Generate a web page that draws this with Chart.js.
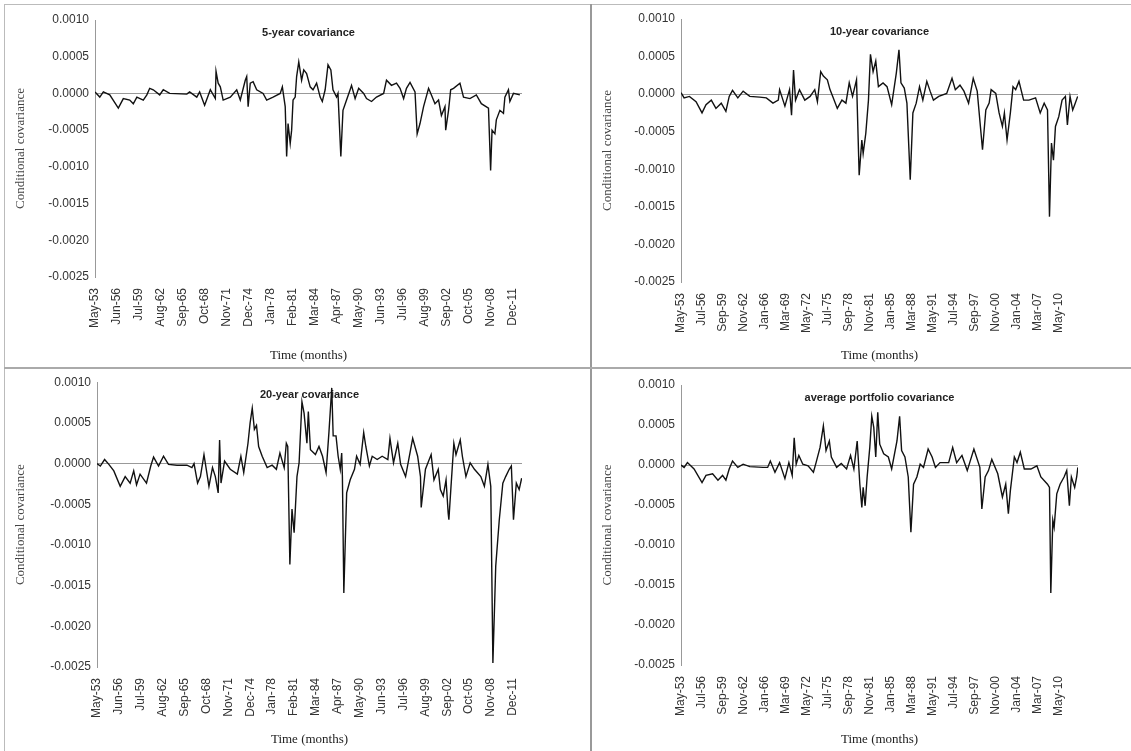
<!DOCTYPE html>
<html><head><meta charset="utf-8">
<script src="https://cdn.jsdelivr.net/npm/chart.js@4.4.0/dist/chart.umd.min.js"></script>
<style>
body{margin:0;background:#fff;width:1131px;height:751px;position:relative;overflow:hidden}
.p{position:absolute}
.ln{position:absolute;background:#bbb}
</style></head><body>
<div class="ln" style="left:4px;top:4px;width:1127px;height:1px"></div>
<div class="ln" style="left:4px;top:4px;width:1px;height:747px"></div>
<div class="ln" style="left:590px;top:4px;width:2px;height:747px;background:#999"></div>
<div class="ln" style="left:4px;top:367px;width:1127px;height:2px;background:#aaa"></div>
<div class="p" style="left:5px;top:5px;width:585px;height:362px"><canvas id="c1"></canvas></div>
<div class="p" style="left:592px;top:5px;width:539px;height:362px"><canvas id="c2"></canvas></div>
<div class="p" style="left:5px;top:369px;width:585px;height:382px"><canvas id="c3"></canvas></div>
<div class="p" style="left:592px;top:369px;width:539px;height:382px"><canvas id="c4"></canvas></div>
<script>
const labelsLeft = ["May-53","Jun-56","Jul-59","Aug-62","Sep-65","Oct-68","Nov-71","Dec-74","Jan-78","Feb-81","Mar-84","Apr-87","May-90","Jun-93","Jul-96","Aug-99","Sep-02","Oct-05","Nov-08","Dec-11"];
const labelsRight = ["May-53","Jul-56","Sep-59","Nov-62","Jan-66","Mar-69","May-72","Jul-75","Sep-78","Nov-81","Jan-85","Mar-88","May-91","Jul-94","Sep-97","Nov-00","Jan-04","Mar-07","May-10"];

const t5 = [1953.33,1954.0,1954.5,1955.4,1956.6,1957.3,1958.2,1958.7,1959.2,1960.1,1960.6,1961.0,1961.5,1962.4,1962.9,1963.8,1966.2,1966.6,1967.6,1968.0,1968.7,1969.5,1970.2,1970.3,1970.6,1970.9,1971.3,1972.3,1973.2,1973.7,1974.4,1974.6,1974.8,1975.1,1975.5,1976.0,1976.9,1977.4,1978.3,1979.3,1979.6,1980.0,1980.2,1980.4,1980.7,1980.9,1981.1,1981.4,1981.6,1981.9,1982.3,1982.6,1983.0,1983.5,1983.9,1984.4,1984.9,1985.2,1985.6,1986.0,1986.4,1986.7,1987.2,1987.4,1987.8,1988.1,1988.6,1989.1,1989.3,1989.8,1990.3,1991.0,1991.4,1992.1,1992.8,1993.8,1994.2,1994.9,1995.6,1996.1,1996.6,1997.0,1997.5,1998.2,1998.5,1998.9,1999.4,2000.1,2000.5,2001.0,2001.5,2001.9,2002.4,2002.5,2002.9,2003.2,2003.6,2004.5,2005.0,2005.9,2006.8,2007.5,2008.5,2008.8,2009.0,2009.4,2009.6,2010.1,2010.6,2010.8,2011.3,2011.5,2012.0,2012.9];
const v5 = [0.00002,-0.00005,0.00002,-0.00002,-0.0002,-0.00007,-0.00009,-0.00014,-0.00005,-0.00009,-0.00002,0.00007,0.00005,-0.00002,0.00005,0,-0.00001,0.00002,-0.00005,0.00002,-0.00016,0.00005,-0.00007,0.0003,0.00014,0.00009,-0.00009,-0.00005,0.00005,-0.00009,0.00018,0.00023,-0.00018,0.00014,0.00016,0.00005,0,-0.00009,-0.00005,0,0.00009,-0.00018,-0.00086,-0.00041,-0.00068,-0.0005,-0.00009,-0.00005,0.00023,0.00043,0.00018,0.00032,0.00027,0.00009,0.00005,0.00014,-0.00005,-0.00011,0.00005,0.00039,0.00032,0.00005,-0.00005,0,-0.00086,-0.00023,-0.00009,0.00005,0.00011,-0.00007,0.00007,0,-0.00007,-0.00011,-0.00005,0,0.00018,0.00011,0.00014,0.00007,-0.00007,0.00007,0.00015,0.00002,-0.00055,-0.00041,-0.00018,0.00007,-0.00002,-0.00014,-0.00009,-0.0003,-0.00018,-0.0005,-0.00023,0.00005,0.00007,0.00014,-0.00005,-0.00007,-0.00002,-0.00014,-0.0002,-0.00105,-0.0005,-0.00055,-0.00036,-0.00023,-0.00027,-0.00005,0.00005,-0.00011,0,-0.00002];

const t10 = [1953.33,1953.8,1954.6,1955.6,1956.5,1957.1,1957.9,1958.6,1959.4,1960.1,1960.6,1961.1,1961.9,1962.7,1963.7,1965.2,1966.2,1967.2,1968.0,1968.2,1969.0,1969.7,1970.0,1970.3,1970.6,1971.2,1972.0,1972.8,1973.5,1973.9,1974.4,1974.8,1975.4,1975.8,1976.3,1976.9,1977.6,1978.2,1978.7,1979.2,1979.8,1980.2,1980.6,1980.8,1981.2,1981.6,1981.9,1982.3,1982.7,1983.1,1983.8,1984.4,1985.1,1985.8,1986.2,1986.5,1987.0,1987.4,1987.9,1988.3,1988.8,1989.3,1989.8,1990.4,1990.9,1991.4,1992.2,1993.4,1994.2,1994.7,1995.4,1996.0,1996.7,1997.4,1998.0,1998.8,1999.3,1999.8,2000.1,2000.8,2001.3,2001.8,2002.1,2002.5,2003.0,2003.4,2003.8,2004.3,2005.0,2005.8,2006.8,2007.5,2008.1,2008.6,2008.9,2009.2,2009.5,2009.8,2010.3,2010.8,2011.3,2011.6,2012.0,2012.4,2012.7,2013.15];
const v10 = [0.00002,-0.00005,-0.00003,-0.0001,-0.00025,-0.00014,-0.00008,-0.00019,-0.00012,-0.00023,-0.00003,0.00005,-0.00005,0.00004,-0.00003,-0.00004,-0.00005,-0.00012,-0.00008,0.00006,-0.00016,0.00006,-0.00028,0.00032,-0.00008,0.00006,-0.00008,-0.00003,0.00006,-0.0001,0.0003,0.00024,0.00019,0.00006,-0.00005,-0.00019,-0.00008,-0.00012,0.00015,-0.00003,0.00019,-0.00108,-0.00061,-0.00079,-0.00052,-0.00008,0.00053,0.0003,0.00044,0.0001,0.00015,0.0001,-0.00014,0.00028,0.00059,0.00015,0.00008,-0.00012,-0.00114,-0.00025,-0.00012,0.0001,-0.00008,0.00017,0.00004,-0.00008,-0.00003,0.00001,0.00021,0.00006,0.00012,0.00004,-0.00012,0.00021,0.00004,-0.00074,-0.00021,-0.00012,0.00006,0.00001,-0.00025,-0.00043,-0.00025,-0.00061,-0.00025,0.0001,0.00006,0.00017,-0.00008,-0.00008,-0.00005,-0.00025,-0.00012,-0.00021,-0.00163,-0.00065,-0.00088,-0.00043,-0.0003,-0.00008,-0.00003,-0.00041,-0.00003,-0.00021,-0.00014,-0.00003];

const t20 = [1953.33,1953.8,1954.4,1955.0,1955.7,1956.6,1957.3,1958.0,1958.5,1958.9,1959.4,1960.3,1960.9,1961.3,1962.0,1962.7,1963.4,1964.6,1966.0,1966.7,1967.0,1967.5,1967.9,1968.4,1969.1,1969.6,1970.0,1970.4,1970.6,1970.8,1971.3,1972.1,1973.1,1973.6,1974.0,1974.6,1974.9,1975.2,1975.5,1975.8,1976.1,1976.6,1977.3,1978.0,1978.6,1979.1,1979.7,1980.0,1980.2,1980.5,1980.8,1981.1,1981.5,1981.8,1982.2,1982.5,1982.9,1983.1,1983.4,1984.1,1984.6,1985.1,1985.6,1986.0,1986.4,1986.6,1987.0,1987.3,1987.6,1987.8,1987.9,1988.1,1988.5,1989.0,1989.6,1989.9,1990.4,1990.9,1991.2,1991.7,1992.1,1992.8,1993.5,1994.3,1994.6,1995.1,1995.7,1996.1,1996.8,1997.8,1998.5,1998.9,1999.0,1999.6,2000.4,2000.8,2001.4,2001.7,2002.1,2002.5,2002.8,2002.9,2003.2,2003.6,2003.9,2004.5,2004.8,2005.3,2005.9,2006.5,2007.4,2007.9,2008.4,2008.8,2009.1,2009.5,2010.0,2010.5,2010.9,2011.4,2011.7,2012.0,2012.4,2012.8,2013.15];
const v20 = [0,-0.00003,0.00005,-0.00001,-0.00009,-0.00028,-0.00016,-0.00024,-0.00009,-0.00026,-0.00013,-0.00024,-0.00003,0.00008,-0.00003,0.00009,-0.00001,-0.00002,-0.00002,-0.00005,0,-0.00024,-0.00016,0.00011,-0.00028,-0.00005,-0.00016,-0.00036,0.00029,-0.00024,0.00003,-0.00007,-0.00013,0.00009,-0.00011,0.00025,0.0005,0.00068,0.00042,0.00047,0.00021,0.00009,-0.00005,-0.00002,-0.00007,0.00013,-0.00005,0.00025,0.00021,-0.00124,-0.00056,-0.00085,-0.00016,0.00001,0.00076,0.00062,0.00025,0.00064,0.00017,0.00011,0.00021,0.00009,-0.00011,0.00038,0.00093,0.00034,0.00034,0.00009,-0.00007,0.00013,-0.00016,-0.00159,-0.00036,-0.0002,-0.00007,0.00009,-0.00001,0.00038,0.00021,-0.00003,0.00009,0.00005,0.00009,0.00005,0.00031,0.00001,0.00025,-0.00001,-0.00016,0.00031,0.00009,-0.00016,-0.00054,-0.00007,0.00011,-0.0002,-0.00007,-0.00032,-0.0004,-0.0002,-0.00061,-0.00069,-0.00028,0.00025,0.00011,0.00029,0.00009,-0.00016,0.00001,-0.00007,-0.00016,-0.00028,-0.00001,-0.00028,-0.00245,-0.00126,-0.00069,-0.00024,-0.00016,-0.00007,-0.00003,-0.00069,-0.00024,-0.00032,-0.00018];

const tAvg = [1953.33,1953.8,1954.3,1955.3,1956.5,1957.1,1958.1,1958.9,1959.6,1960.1,1960.6,1961.1,1961.9,1962.7,1963.7,1965.7,1966.4,1966.8,1967.5,1968.2,1969.0,1969.6,1970.1,1970.4,1970.7,1971.1,1971.7,1972.5,1973.3,1973.7,1974.3,1974.8,1975.2,1975.7,1976.0,1976.8,1977.5,1978.3,1978.9,1979.4,1979.9,1980.3,1980.6,1980.8,1981.1,1981.4,1981.8,1982.1,1982.4,1982.7,1983.0,1983.3,1983.9,1984.6,1985.1,1985.9,1986.3,1986.6,1987.1,1987.6,1988.0,1988.4,1988.9,1989.4,1989.9,1990.6,1991.2,1991.7,1992.4,1993.7,1994.3,1994.9,1995.7,1996.5,1997.5,1998.4,1998.7,1999.2,1999.7,2000.2,2001.1,2001.8,2002.3,2002.7,2003.0,2003.6,2004.0,2004.5,2005.1,2006.1,2007.0,2007.6,2008.6,2008.9,2009.1,2009.4,2009.6,2010.0,2010.5,2011.1,2011.5,2011.9,2012.2,2012.7,2013.0,2013.18];
const vAvg = [0,-0.00003,0.00003,-0.00005,-0.00022,-0.00013,-0.00011,-0.00019,-0.00013,-0.00019,-0.00005,0.00005,-0.00003,0.00001,-0.00002,-0.00003,-0.00003,0.00005,-0.00009,0.00003,-0.00017,0.00003,-0.00013,0.00034,0.00001,0.00012,0.00001,-0.00001,-0.00009,0.00003,0.00022,0.00049,0.00018,0.0003,0.0001,-0.00003,0.00002,-0.00005,0.00012,-0.00005,0.0003,-0.00024,-0.00053,-0.00028,-0.00051,-0.00015,0.00022,0.00061,0.00047,0.0001,0.00066,0.00026,0.00014,0.0001,-0.00005,0.0003,0.00061,0.00018,0.0001,-0.00015,-0.00084,-0.00024,-0.00015,0.00001,-0.00003,0.0002,0.0001,-0.00003,0.00003,0.00003,0.00022,0.00003,0.00012,-0.00007,0.0002,-0.00003,-0.00055,-0.00015,-0.00007,0.00007,-0.00011,-0.0004,-0.00024,-0.00061,-0.00032,0.0001,0.00003,0.00016,-0.00005,-0.00005,-0.00001,-0.00015,-0.00024,-0.00028,-0.0016,-0.00069,-0.00078,-0.00036,-0.00024,-0.00015,-0.00007,-0.00051,-0.00015,-0.00028,-0.00015,-0.00003];

const MON = {Jan:0,Feb:1,Mar:2,Apr:3,May:4,Jun:5,Jul:6,Aug:7,Sep:8,Oct:9,Nov:10,Dec:11};
function lblToYear(s){const [m,y]=s.split('-');let yy=+y;yy+= yy<30?2000:1900;return yy+MON[m]/12;}

function makeChart(id, title, ts, vs, labels, pad, yw, xh){
  const lv = labels.map(lblToYear);
  const titlePlugin = {id:'ttl', afterDraw(c){const a=c.chartArea,x=c.ctx;x.save();x.font='bold 11px "Liberation Sans", Arial';x.fillStyle='#222';x.textAlign='center';x.textBaseline='top';x.fillText(title,(a.left+a.right)/2,a.top+7);x.restore();}};
  new Chart(document.getElementById(id), {
    type:'line',
    data:{datasets:[{data:ts.map((t,i)=>({x:t,y:vs[i]})),borderColor:'#111',borderWidth:1.4,pointRadius:0,tension:0}]},
    options:{responsive:true,maintainAspectRatio:false,animation:false,
      layout:{padding:pad},
      plugins:{legend:{display:false},tooltip:{enabled:false}},
      scales:{
        x:{type:'linear',min:1953.33,max:2013.2,
          afterBuildTicks(s){s.ticks=lv.map(v=>({value:v}));},
          afterFit(s){s.height=xh;},
          grid:{display:false},border:{display:false},
          ticks:{autoSkip:false,maxRotation:90,minRotation:90,color:'#333',font:{family:'"Liberation Sans", Arial',size:12},padding:3,
            callback(v,i){return labels[i];}},
          title:{display:true,text:'Time (months)',color:'#222',font:{family:'"Liberation Serif", serif',size:13},padding:{top:0}}
        },
        y:{min:-0.0025,max:0.001,
          afterFit(s){s.width=yw;},
          ticks:{stepSize:0.0005,color:'#333',font:{family:'"Liberation Sans", Arial',size:12},padding:6,callback:v=>v.toFixed(4)},
          grid:{color:c=>Math.abs(c.tick.value)<1e-9?'#999':'rgba(0,0,0,0)',drawTicks:false,lineWidth:1},
          border:{color:'#999'},
          title:{display:true,text:'Conditional covariance',color:'#444',font:{family:'"Liberation Serif", serif',size:13},padding:{bottom:4}}
        }
      }
    },
    plugins:[titlePlugin]
  });
}
makeChart('c1','5-year covariance',t5,v5,labelsLeft,{left:4,right:68,top:15,bottom:0},86,90);
makeChart('c2','10-year covariance',t10,v10,labelsRight,{left:4,right:53,top:14,bottom:0},85,85);
makeChart('c3','20-year covariance',t20,v20,labelsLeft,{left:4,right:68,top:13,bottom:0},88,84);
makeChart('c4','average portfolio covariance',tAvg,vAvg,labelsRight,{left:4,right:53,top:16,bottom:0},85,86);
</script></body></html>
